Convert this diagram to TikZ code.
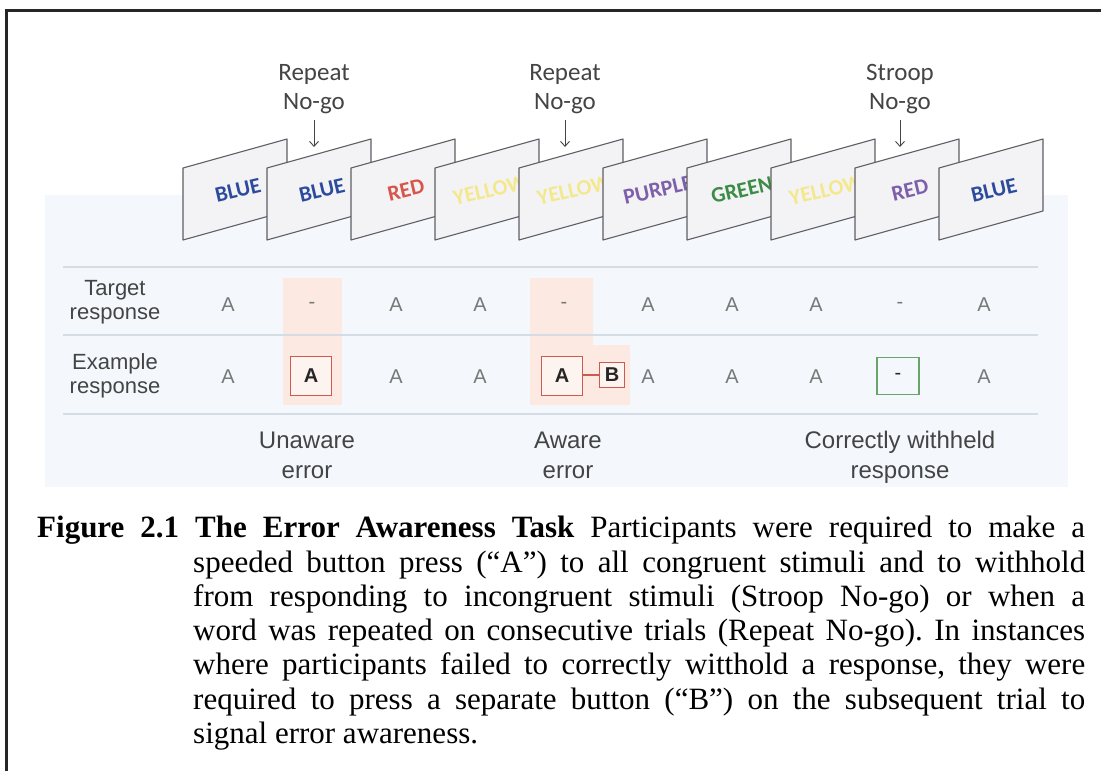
\documentclass[tikz,border=0pt]{standalone}
\usepackage{fontspec}
\setmainfont{Liberation Serif}
\newfontfamily\calibrifont{Carlito}
\newfontfamily\arialfont{Liberation Sans}
\usetikzlibrary{arrows.meta,positioning}

\definecolor{cardfill}{RGB}{243,243,246}
\definecolor{cardline}{RGB}{95,95,100}
\definecolor{panelblue}{RGB}{244,248,252}
\definecolor{rulegray}{RGB}{212,220,230}
\definecolor{errpink}{RGB}{251,233,226}
\definecolor{errred}{RGB}{205,90,80}
\definecolor{okgreen}{RGB}{105,165,105}
\definecolor{wordblue}{RGB}{45,75,155}
\definecolor{wordred}{RGB}{215,85,75}
\definecolor{wordyellow}{RGB}{243,233,140}
\definecolor{wordpurple}{RGB}{125,95,170}
\definecolor{wordgreen}{RGB}{60,140,70}
\definecolor{labelgray}{RGB}{68,68,68}
\definecolor{lettergray}{RGB}{120,120,120}

\begin{document}
\begin{tikzpicture}[x=1pt,y=-1pt,
  card/.style={draw=cardline,fill=cardfill,line width=1.1pt,line join=round},
  word/.style={font=\calibrifont\bfseries\fontsize{22}{22}\selectfont,rotate=13,inner sep=0pt},
  nogo/.style={font=\calibrifont\fontsize{25}{29}\selectfont,text=labelgray,align=center},
  nogoarrow/.style={-{Straight Barb[length=5pt,width=9pt]},draw=labelgray,line width=0.9pt},
  rowlabel/.style={font=\arialfont\fontsize{22}{24}\selectfont,text=labelgray,align=center},
  outcome/.style={font=\arialfont\fontsize{24}{30}\selectfont,text=labelgray,align=center},
  letter/.style={font=\arialfont\fontsize{20}{20}\selectfont,text=lettergray},
  rule/.style={draw=rulegray,line width=1.5pt},
  respbox/.style={draw=errred,line width=1.5pt,fill=errpink!55,minimum width=41pt,minimum height=39pt,
    inner sep=0pt,font=\arialfont\bfseries\fontsize{20}{20}\selectfont,text=black!85},
  okbox/.style={respbox,draw=okgreen,fill=none,minimum width=42pt,minimum height=37pt}]
  \useasboundingbox (0,0) rectangle (1101,771); % page size
  \fill[white] (0,0) rectangle (1101,771); % paper
  \fill[panelblue] (45,195) rectangle (1068,487); % light panel behind the table
  \draw[line width=3pt,draw=black!85] (1101,10) -- (6,10) -- (6,771); % page frame

  % stimulus cards, each one drawn over the previous word
  \foreach \i/\w/\c in {0/BLUE/wordblue,1/BLUE/wordblue,2/RED/wordred,3/YELLOW/wordyellow,
      4/YELLOW/wordyellow,5/PURPLE/wordpurple,6/GREEN/wordgreen,7/YELLOW/wordyellow,
      8/RED/wordpurple,9/BLUE/wordblue}{
    \draw[card] (183+84*\i,168) -- ++(104,-29) -- ++(0,72) -- ++(-104,29) -- cycle;
    \node[word,text=\c] (w\i) at (238+84*\i,190) {\w};
  }

  % no-go labels above the cards
  \node[nogo] (rep1) at (314,89) {Repeat\\No-go};
  \node[nogo] (rep2) at (565,89) {Repeat\\No-go};
  \node[nogo] (stroop) at (900,89) {Stroop\\No-go};
  \coordinate (tip1) at (314,147);
  \coordinate (tip2) at (565,147);
  \coordinate (tip3) at (900,147);
  \draw[nogoarrow] ([yshift=-3pt]rep1.south) -- (tip1);
  \draw[nogoarrow] ([yshift=-3pt]rep2.south) -- (tip2);
  \draw[nogoarrow] ([yshift=-3pt]stroop.south) -- (tip3);

  % error columns
  \fill[errpink] (283,278) rectangle (342,405); % unaware error
  \fill[errpink] (530,278) -- (593,278) -- (593,345) -- (630,345) -- (630,405) -- (530,405) -- cycle; % aware error

  % table rules
  \draw[rule] (63,267) -- (1038,267);
  \draw[rule] (63,335) -- (1038,335);
  \draw[rule] (63,414) -- (1038,414);

  % row labels
  \node[rowlabel] (target) at (115,302) {Target\\response};
  \node[rowlabel] (example) at (115,376) {Example\\response};

  % target responses
  \foreach \i/\t in {0/A,1/-,2/A,3/A,4/-,5/A,6/A,7/A,8/-,9/A}
    \node[letter] (t\i) at (228+84*\i,305) {\t};

  % example responses
  \foreach \i in {0,2,3,5,6,7,9}
    \node[letter] (e\i) at (228+84*\i,377) {A};
  \node[respbox] (e1) at (311,376) {A};
  \node[respbox] (e4) at (562,376) {A};
  \node[respbox,minimum width=25pt,minimum height=25pt] (eb) at (612,375) {B};
  \draw[errred,line width=1.5pt] (e4.east |- eb.west) -- (eb.west);
  \node[okbox] (e8) at (898,376) {\mdseries-};

  % outcome labels
  \node[outcome] (unaware) at (307,455) {Unaware\\error};
  \node[outcome] (aware) at (568,455) {Aware\\error};
  \node[outcome] (withheld) at (900,457) {Correctly withheld\\response};

  % caption
  \node[anchor=north west,inner sep=0pt,font=\fontsize{31}{34.3}\selectfont] (caption) at (37,516)
    {\parbox[t]{1048pt}{\frenchspacing\noindent\hangindent=156pt\hangafter=1%
     \textbf{Figure 2.1 The Error Awareness Task} Participants were required to make a\linebreak
     speeded button press (“A”) to all congruent stimuli and to withhold\linebreak
     from responding to incongruent stimuli (Stroop No-go) or when a\linebreak
     word was repeated on consecutive trials (Repeat No-go). In instances\linebreak
     where participants failed to correctly witthold a response, they were\linebreak
     required to press a separate button (“B”) on the subsequent trial to\linebreak
     signal error awareness.}};
\end{tikzpicture}
\end{document}
